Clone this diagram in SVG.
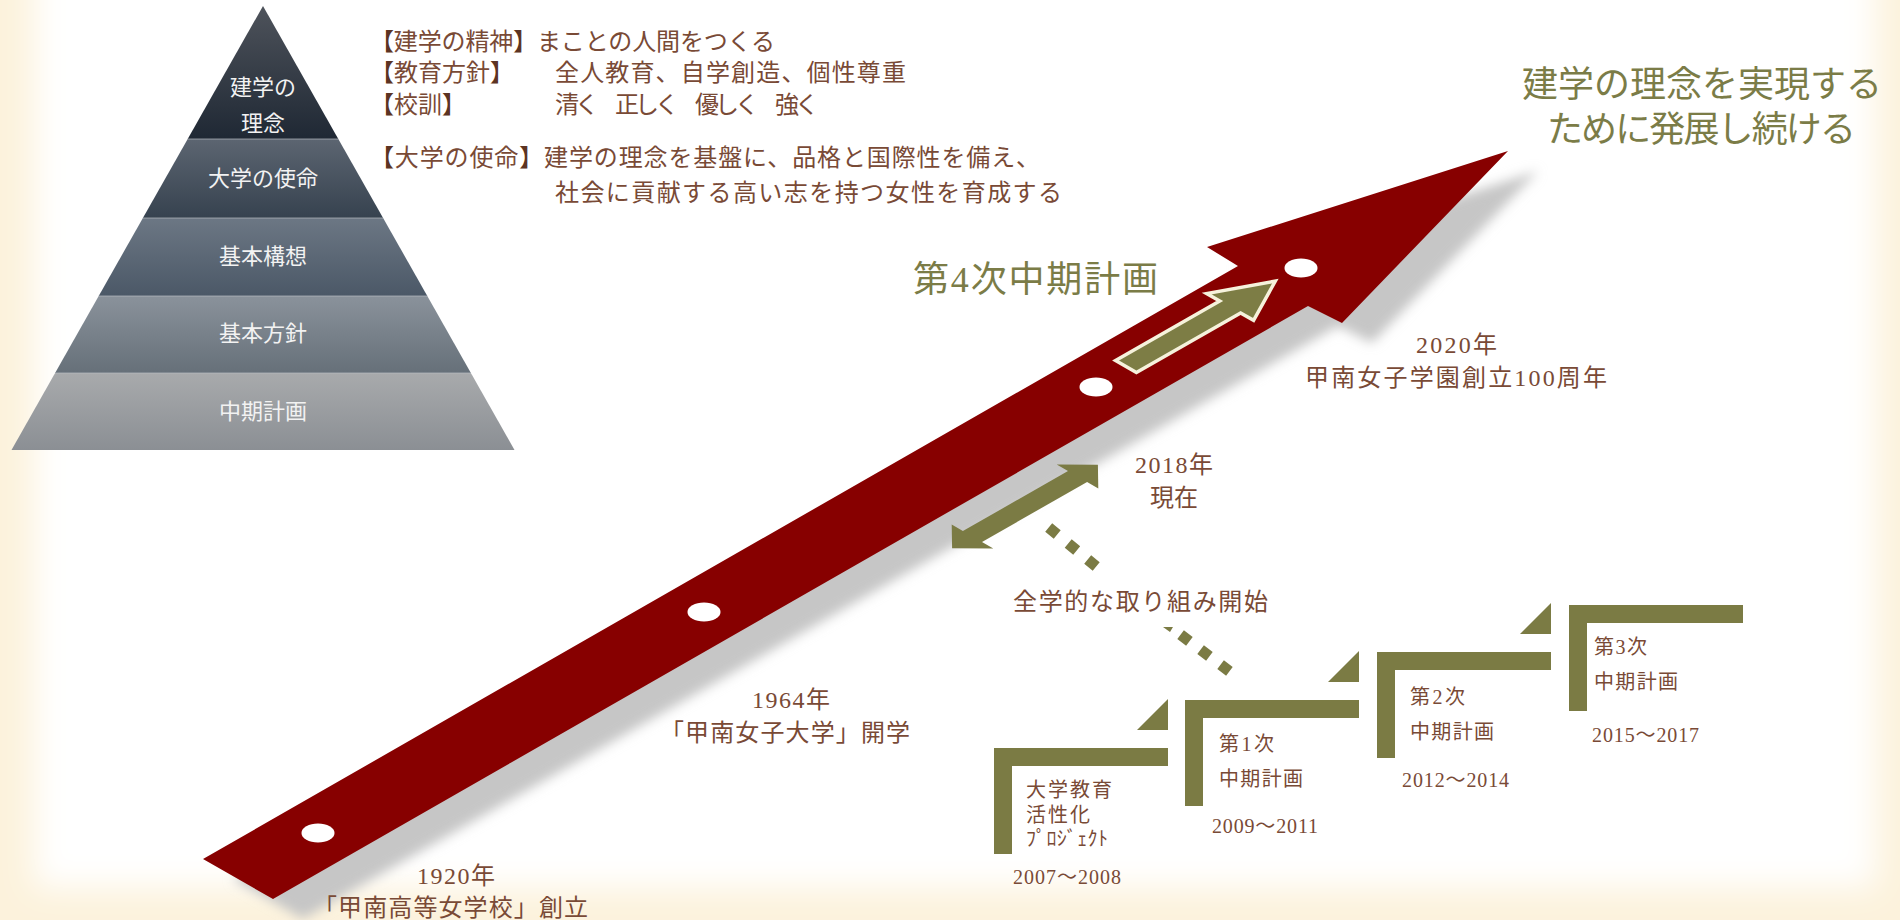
<svg xmlns="http://www.w3.org/2000/svg" width="1900" height="920" viewBox="0 0 1900 920">
<defs>
<style>
.t{font-family:"Liberation Serif","Noto Sans CJK JP",serif;}
.br{fill:#794a36;}
.bk{fill:#5c3422;}
.ol{fill:#7b7c47;}
.pw{fill:#f2f2f2;font-size:22px;text-anchor:middle;}
.olv{fill:#7b7b44;}
.dot{fill:#ffffff;}
</style>
<filter id="bgblur" filterUnits="userSpaceOnUse" x="-200" y="-200" width="2300" height="1320"><feGaussianBlur stdDeviation="16"/></filter>
<filter id="shblur" filterUnits="userSpaceOnUse" x="0" y="0" width="1900" height="1000"><feGaussianBlur stdDeviation="6"/></filter>
<linearGradient id="g1" x1="0" y1="0" x2="0" y2="1"><stop offset="0" stop-color="#4e535b"/><stop offset="1" stop-color="#1f2834"/></linearGradient>
<linearGradient id="g2" x1="0" y1="0" x2="0" y2="1"><stop offset="0" stop-color="#5c6571"/><stop offset="1" stop-color="#36424f"/></linearGradient>
<linearGradient id="g3" x1="0" y1="0" x2="0" y2="1"><stop offset="0" stop-color="#6c7784"/><stop offset="1" stop-color="#4b5867"/></linearGradient>
<linearGradient id="g4" x1="0" y1="0" x2="0" y2="1"><stop offset="0" stop-color="#8a929b"/><stop offset="1" stop-color="#667079"/></linearGradient>
<linearGradient id="g5" x1="0" y1="0" x2="0" y2="1"><stop offset="0" stop-color="#a8aaac"/><stop offset="1" stop-color="#8b8f94"/></linearGradient>
</defs>

<!-- background -->
<rect x="0" y="0" width="1900" height="920" fill="#fcf2dc"/>
<rect x="34" y="-80" width="1842" height="968" fill="#ffffff" filter="url(#bgblur)"/>

<!-- pyramid -->
<g id="pyramid">
  <g id="pyr-rinen">
    <polygon points="263,6 338.3,139 187.7,139" fill="url(#g1)"/>
    <text class="t pw" x="263" y="95">建学の</text>
    <text class="t pw" x="263" y="131">理念</text>
  </g>
  <g id="pyr-shimei">
    <polygon points="187.7,139 338.3,139 383.1,218 142.9,218" fill="url(#g2)"/>
    <text class="t pw" x="263" y="186">大学の使命</text>
  </g>
  <g id="pyr-kousou">
    <polygon points="142.9,218 383.1,218 427.3,296 98.7,296" fill="url(#g3)"/>
    <text class="t pw" x="263" y="264">基本構想</text>
  </g>
  <g id="pyr-houshin">
    <polygon points="98.7,296 427.3,296 470.9,373 55.1,373" fill="url(#g4)"/>
    <text class="t pw" x="263" y="341">基本方針</text>
  </g>
  <g id="pyr-chuuki">
    <polygon points="55.1,373 470.9,373 514.5,450 11.5,450" fill="url(#g5)"/>
    <text class="t pw" x="263" y="419">中期計画</text>
  </g>
  <g stroke="#b8bcc2" stroke-width="1" opacity="0.7">
    <line x1="187.7" y1="139" x2="338.3" y2="139"/>
    <line x1="142.9" y1="218" x2="383.1" y2="218"/>
    <line x1="98.7" y1="296" x2="427.3" y2="296"/>
    <line x1="55.1" y1="373" x2="470.9" y2="373"/>
  </g>
</g>

<!-- principles text block -->
<g id="principles" class="t" font-size="24">
  <text x="370" y="50" textLength="405" class="br"><tspan class="bk">【</tspan>建学の精神<tspan class="bk">】</tspan>まことの人間をつくる</text>
  <text x="370" y="81" class="br"><tspan class="bk">【</tspan>教育方針<tspan class="bk">】</tspan></text>
  <text x="555" y="81" textLength="351" class="br">全人教育、自学創造、個性尊重</text>
  <text x="370" y="113" class="br"><tspan class="bk">【</tspan>校訓<tspan class="bk">】</tspan></text>
  <text x="555" y="113" textLength="264" class="br">清く　正しく　優しく　強く</text>
  <text x="370" y="166" textLength="670" class="br"><tspan class="bk">【</tspan>大学の使命<tspan class="bk">】</tspan>建学の理念を基盤に、品格と国際性を備え、</text>
  <text x="555" y="201" textLength="507" class="br">社会に貢献する高い志を持つ女性を育成する</text>
</g>

<!-- title -->
<g id="title" class="t ol" font-size="36">
  <text x="1522" y="97" textLength="360">建学の理念を実現する</text>
  <text x="1547" y="142" textLength="309">ために発展し続ける</text>
</g>

<!-- main timeline arrow -->
<g id="timeline-arrow">
  <polygon points="233,879 1268,286 1237,267 1538,171 1372,343 1338,326 303,919" fill="#c6c6c6" filter="url(#shblur)"/>
  <polygon points="203,859 1238,266 1207,247 1508,151 1342,323 1308,306 273,899" fill="#870000"/>
  <ellipse class="dot" cx="318" cy="833" rx="16.5" ry="9.5"/>
  <ellipse class="dot" cx="704" cy="612" rx="16.5" ry="9.5"/>
  <ellipse class="dot" cx="1096" cy="387" rx="16.5" ry="9.5"/>
  <ellipse class="dot" cx="1301" cy="268" rx="16.5" ry="9.5"/>
</g>

<!-- connectors -->
<g id="connectors">
  <polygon id="plan4-arrow" points="1115.6,360.5 1219.7,301 1206.7,293.5 1275.3,281.1 1253.6,320.3 1240.6,312.9 1136.4,372.5" fill="#7d7d45" stroke="#f6f2dc" stroke-width="3.5" stroke-linejoin="miter"/>
  <polygon id="now-arrow" points="952.1,548.2 951.7,524.6 962.9,531.1 1068,471 1056.7,464.5 1097.9,464.8 1098.3,488.4 1087.1,481.9 982,542 993.3,548.5" fill="#7b7b44"/>
  <path id="dots-1" d="M1048.7,527.5 L1096.3,566.5" stroke="#7b7b44" stroke-width="11" stroke-dasharray="11 14.2" fill="none"/>
  <polygon points="1163,627 1173,627 1170,632" fill="#7b7b44"/>
  <path id="dots-2" d="M1180.6,634.7 L1229.4,671.3" stroke="#7b7b44" stroke-width="11" stroke-dasharray="11 14" fill="none"/>
</g>

<!-- 4th plan label -->
<g id="plan4">
  <text class="t ol" font-size="36" x="913" y="292" textLength="245">第4次中期計画</text>
</g>

<!-- timeline labels -->
<g id="event-2020" class="t br" font-size="24">
  <text x="1416" y="353" textLength="81">2020年</text>
  <text x="1305" y="386" textLength="302">甲南女子学園創立100周年</text>
</g>
<g id="event-2018" class="t br" font-size="24">
  <text x="1135" y="473" textLength="78">2018年</text>
  <text x="1150" y="506" textLength="48">現在</text>
</g>
<g id="event-start" class="t br" font-size="24">
  <text x="1013" y="610" textLength="255">全学的な取り組み開始</text>
</g>
<g id="event-1964" class="t br" font-size="24">
  <text x="752" y="708" textLength="78">1964年</text>
  <text x="660" y="741" textLength="250">「甲南女子大学」開学</text>
</g>
<g id="event-1920" class="t br" font-size="24">
  <text x="417" y="884" textLength="78">1920年</text>
  <text x="313" y="916" textLength="275">「甲南高等女学校」創立</text>
</g>

<!-- steps -->
<g id="step-0">
  <path class="olv" d="M994,748 h174 v18 h-156 v88 h-18 z"/>
  <polygon class="olv" points="1137,730 1168,699 1168,730"/>
  <g class="t br" font-size="20">
    <text x="1026" y="797" textLength="86">大学教育</text>
    <text x="1026" y="822" textLength="64">活性化</text>
    <text x="1026" y="846" textLength="82">ﾌﾟﾛｼﾞｪｸﾄ</text>
    <text x="1013" y="884" textLength="108">2007～2008</text>
  </g>
</g>
<g id="step-1">
  <path class="olv" d="M1185,700 h174 v18 h-156 v88 h-18 z"/>
  <polygon class="olv" points="1328,682 1359,651 1359,682"/>
  <g class="t br" font-size="20">
    <text x="1219" y="751" textLength="55">第1次</text>
    <text x="1219" y="786" textLength="84">中期計画</text>
    <text x="1212" y="833" textLength="106">2009～2011</text>
  </g>
</g>
<g id="step-2">
  <path class="olv" d="M1377,652 h174 v18 h-156 v88 h-18 z"/>
  <polygon class="olv" points="1520,634 1551,603 1551,634"/>
  <g class="t br" font-size="20">
    <text x="1410" y="704" textLength="55">第2次</text>
    <text x="1410" y="739" textLength="84">中期計画</text>
    <text x="1402" y="787" textLength="107">2012～2014</text>
  </g>
</g>
<g id="step-3">
  <path class="olv" d="M1569,605 h174 v18 h-156 v88 h-18 z"/>
  <g class="t br" font-size="20">
    <text x="1594" y="654" textLength="53">第3次</text>
    <text x="1594" y="689" textLength="84">中期計画</text>
    <text x="1592" y="742" textLength="107">2015～2017</text>
  </g>
</g>
</svg>
